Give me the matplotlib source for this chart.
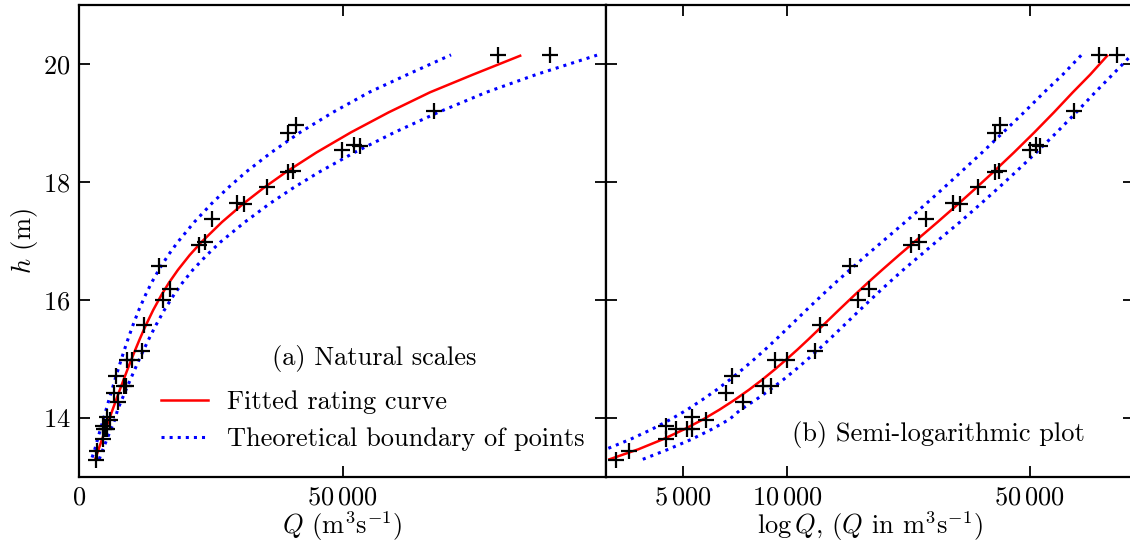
import numpy as np
import matplotlib
matplotlib.use('Agg')
import matplotlib.pyplot as plt
from matplotlib.ticker import NullLocator

plt.rcParams['font.family'] = 'serif'
plt.rcParams['font.serif'] = ['cmr10']
plt.rcParams['mathtext.fontset'] = 'cm'
plt.rcParams['axes.unicode_minus'] = False
plt.rcParams['axes.formatter.use_mathtext'] = True

FS = 19

# gauged points: discharge Q (m3/s) and stage h (m)
Q_obs = [79500, 89400, 67300, 39600, 41200, 49970, 52200, 53400, 39700, 40700,
         35600, 30000, 31400, 25170, 22780, 23950, 15190, 15980, 17190, 12400,
         11990, 9190, 10000, 8505, 8990, 6940, 6670, 7445, 3210, 3494,
         4460, 4480, 4785, 5135, 5320, 5320, 5813]
h_obs = [20.15, 20.15, 19.20, 18.83, 18.96, 18.55, 18.62, 18.61, 18.17, 18.18,
         17.92, 17.65, 17.63, 17.37, 16.94, 16.98, 16.58, 16.00, 16.18, 15.57,
         15.14, 14.99, 14.98, 14.55, 14.55, 14.72, 14.43, 14.27, 13.29, 13.44,
         13.86, 13.65, 13.82, 13.81, 14.01, 13.81, 13.96]

# fitted rating curve
h_fit = [13.30, 13.47, 13.64, 13.81, 13.98, 14.14, 14.31, 14.48, 14.65, 14.82,
         14.99, 15.16, 15.33, 15.56, 15.83, 16.09, 16.29, 16.51, 16.76, 16.98,
         17.32, 17.63, 17.90, 18.17, 18.50, 18.84, 19.18, 19.52, 19.82, 20.14]
Q_fit = [3070, 3720, 4380, 5050, 5730, 6370, 7060, 7760, 8470, 9190,
         9930, 10700, 11490, 12620, 14080, 15670, 17050, 18770, 20990, 23210,
         27120, 31150, 35040, 39310, 45050, 51580, 58750, 66600, 74750, 83710]

# theoretical boundaries of points
h_up = [13.33, 13.47, 13.64, 13.81, 13.98, 14.14, 14.31, 14.48, 14.65, 14.82,
        14.99, 15.16, 15.33, 15.56, 15.83, 16.09, 16.29, 16.51, 16.76, 16.98,
        17.32, 17.63, 17.90, 18.17, 18.50, 18.84, 19.18, 19.52, 19.82, 20.155]
Q_up = [2480, 3000, 3530, 4070, 4620, 5140, 5690, 6260, 6830, 7410,
        8010, 8630, 9270, 10180, 11350, 12640, 13750, 15140, 16930, 18720,
        21870, 25120, 28260, 31700, 36480, 41930, 48160, 55040, 62290, 70590]
h_lo = [13.30, 13.47, 13.64, 13.81, 13.98, 14.14, 14.31, 14.48, 14.65, 14.82,
        14.99, 15.16, 15.33, 15.56, 15.83, 16.09, 16.29, 16.51, 16.76, 16.98,
        17.32, 17.63, 17.90, 18.17, 18.50, 18.84, 19.18, 19.52, 19.82, 20.15]
Q_lo = [3830, 4540, 5300, 6060, 6820, 7330, 8120, 8920, 9740, 10570,
        11420, 12300, 13210, 14510, 16190, 18020, 19610, 21590, 24240, 26810,
        31460, 36130, 40650, 45600, 52260, 59830, 68150, 77260, 86710, 98300]

fig = plt.figure(figsize=(11.3, 5.45), dpi=100)
ax1 = fig.add_axes([79/1130, 68/545, 527/1130, 472/545])
ax2 = fig.add_axes([606/1130, 68/545, 528/1130, 472/545])

for ax in (ax1, ax2):
    ax.plot(Q_obs, h_obs, '+', color='k', markersize=11, mew=1.6, zorder=3)
    ax.plot(Q_fit, h_fit, '-', color='r', lw=1.8, label='Fitted rating curve')
    ax.plot(Q_up, h_up, ':', color='b', lw=2.2, label='Theoretical boundary of points')
    ax.plot(Q_lo, h_lo, ':', color='b', lw=2.2)
    ax.set_ylim(13, 21)
    ax.set_yticks([14, 16, 18, 20])
    ax.tick_params(direction='in', length=8, width=1.3, top=True, right=True,
                   labelsize=FS, pad=6)
    for s in ax.spines.values():
        s.set_linewidth(1.6)

ax1.set_xlim(0, 100000)
ax1.set_xticks([0, 50000])
ax1.set_xticklabels(['$0$', r'$50\,000$'])
ax1.set_yticklabels(['$14$', '$16$', '$18$', '$20$'])
ax1.set_xlabel(r'$Q$ (m$^3$s$^{-1}$)', fontsize=FS, labelpad=0)
ax1.set_ylabel(r'$h$ (m)', fontsize=FS, labelpad=2)
ax1.text(0.56, 0.25, '(a) Natural scales', transform=ax1.transAxes,
         ha='center', va='center', fontsize=FS)
ax1.legend(loc='lower left', bbox_to_anchor=(0.11, 0.005), frameon=False,
           fontsize=FS, handlelength=1.8, handletextpad=0.7, labelspacing=0.5)

ax2.set_xscale('log')
ax2.set_xlim(3000, 100000)
ax2.set_xticks([5000, 10000, 50000])
ax2.xaxis.set_minor_locator(NullLocator())
ax2.set_xticklabels([r'$5\,000$', r'$10\,000$', r'$50\,000$'])
ax2.set_yticklabels([])
ax2.set_xlabel(r'$\log Q$, ($Q$ in m$^3$s$^{-1}$)', fontsize=FS, labelpad=0)
ax2.text(0.63, 0.09, '(b) Semi-logarithmic plot', transform=ax2.transAxes,
         ha='center', va='center', fontsize=FS)

fig.savefig('out.png', dpi=100)
